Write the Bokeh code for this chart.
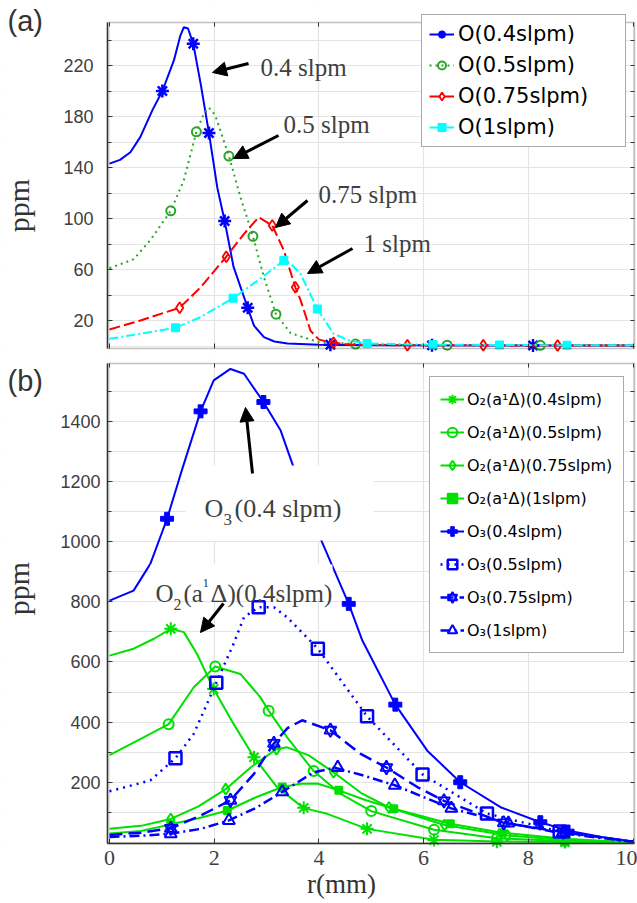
from bokeh.plotting import figure
from bokeh.models import (Range1d, Label, Arrow, NormalHead, Legend, LegendItem,
                          BoxAnnotation, FixedTicker, LinearAxis, Grid)
from bokeh.layouts import column
from bokeh.embed import file_html
from bokeh.resources import INLINE

# ---------------- data: panel (a)  O concentration (ppm) vs r (mm) ----------------
a_O04_x = [0.0, 0.2, 0.40, 0.59, 0.82, 1.01, 1.23, 1.35, 1.42, 1.50, 1.60, 1.74, 1.90, 2.06, 2.20, 2.37, 2.64, 2.76, 2.95, 3.15, 3.4, 4.0, 5.0, 6.0, 8.0, 10.0]
a_O04_y = [143, 146, 152, 164, 185, 200, 224, 243, 250, 249, 237, 206, 167, 124, 98, 62, 30, 16, 7, 3.5, 2, 1, 0.6, 0.5, 0.4, 0.3]
a_O04_mx = [1.01, 1.60, 1.90, 2.20, 2.64, 4.22, 6.16, 8.09]
a_O04_my = [200, 237, 167, 98, 30, 1, 0.5, 0.4]

a_O05_x = [0.0, 0.46, 0.78, 1.17, 1.42, 1.66, 1.80, 1.90, 2.02, 2.28, 2.50, 2.74, 2.95, 3.18, 3.46, 4.0, 5.0, 6.0, 8.0, 10.0]
a_O05_y = [61, 68, 83, 106, 130, 168, 182, 187, 181, 149, 117, 86, 54, 25, 10, 3, 1, 0.6, 0.5, 0.4]
a_O05_mx = [1.17, 1.66, 2.28, 2.74, 3.18, 4.70, 6.45, 8.23]
a_O05_my = [106, 168, 149, 86, 25, 1.5, 0.6, 0.5]

a_O075_x = [0.0, 0.59, 1.34, 1.74, 2.23, 2.57, 2.85, 3.11, 3.33, 3.55, 3.65, 3.84, 4.0, 4.28, 4.6, 5.5, 7.0, 8.5, 10.0]
a_O075_y = [13, 20, 30, 46, 70, 88, 101, 94.5, 75, 46, 36, 12, 5, 2.5, 1, 0.6, 0.5, 0.4, 0.3]
a_O075_mx = [1.34, 2.23, 3.11, 3.55, 4.28, 5.69, 7.14, 8.56]
a_O075_my = [30, 70, 94.5, 46, 2.5, 0.6, 0.5, 0.4]

a_O1_x = [0.0, 0.59, 1.26, 1.74, 2.36, 2.82, 3.33, 3.45, 3.65, 3.97, 4.28, 4.6, 4.92, 6.18, 7.45, 8.74, 10.0]
a_O1_y = [5.6, 9.6, 14.3, 22.6, 37.5, 51, 67, 65, 56.6, 29, 9.6, 4, 2, 1, 0.8, 0.6, 0.5]
a_O1_mx = [1.26, 2.36, 3.33, 3.97, 4.92, 6.18, 7.45, 8.74]
a_O1_my = [14.3, 37.5, 67, 29, 2, 1, 0.8, 0.6]

a_labels = ["O(0.4slpm)", "O(0.5slpm)", "O(0.75slpm)", "O(1slpm)"]
a_yticks = [20, 60, 100, 140, 180, 220]
a_yminor = [40, 80, 120, 160, 200, 240]
a_ygrid = list(range(0, 260, 20))

# ---------------- data: panel (b)  O2(a1Δ) and O3 (ppm) vs r (mm) ----------------
b_G04_x = [0.0, 0.46, 0.85, 1.17, 1.42, 1.67, 1.99, 2.37, 2.76, 3.20, 3.71, 4.16, 4.92, 6.2, 7.4, 8.7, 10.0]
b_G04_y = [621, 644, 677, 710, 699, 627, 510, 394, 283, 184, 114, 95, 45, 9, 3, 1, 0]
b_G04_mx = [1.17, 1.99, 2.76, 3.71, 4.92, 6.20, 7.40, 8.70]
b_G04_my = [710, 510, 283, 115, 45, 8, 2, 1]

b_G05_x = [0.0, 0.66, 1.13, 1.61, 2.02, 2.5, 2.88, 3.04, 3.39, 3.90, 4.41, 5.0, 6.2, 7.4, 8.7, 10.0]
b_G05_y = [290, 350, 393, 516, 585, 560, 483, 438, 350, 237, 162, 104, 42, 14, 5, 0]
b_G05_mx = [1.13, 2.02, 3.04, 3.90, 5.0, 6.2, 7.4, 8.7]
b_G05_my = [393, 585, 438, 237, 104, 42, 14, 5]

b_G075_x = [0.0, 0.6, 1.17, 1.7, 2.22, 2.7, 3.19, 3.39, 3.8, 4.28, 4.8, 5.34, 6.4, 7.6, 8.7, 10.0]
b_G075_y = [45, 55, 78, 120, 177, 250, 310, 316, 290, 233, 165, 116, 58, 23, 8, 0]
b_G075_mx = [1.17, 2.22, 3.19, 4.28, 5.34, 6.4, 7.6, 8.7]
b_G075_my = [78, 177, 310, 233, 116, 58, 23, 8]

b_G1_x = [0.0, 0.6, 1.17, 1.7, 2.25, 2.8, 3.30, 3.65, 3.97, 4.38, 4.9, 5.43, 6.51, 7.5, 8.7, 10.0]
b_G1_y = [30, 38, 60, 80, 106, 150, 184, 195, 196, 173, 140, 112, 62, 32, 12, 0]
b_G1_mx = [1.17, 2.25, 3.30, 4.38, 5.43, 6.51, 7.5, 8.7]
b_G1_my = [60, 106, 184, 173, 112, 62, 32, 12]

b_B04_x = [0.0, 0.46, 0.78, 1.10, 1.36, 1.74, 1.99, 2.31, 2.57, 2.94, 3.27, 3.51, 4.06, 4.57, 4.83, 5.46, 6.07, 6.70, 7.47, 8.23, 8.74, 9.4, 10.0]
b_B04_y = [804, 837, 926, 1076, 1225, 1433, 1536, 1574, 1558, 1464, 1369, 1250, 998, 793, 671, 458, 305, 200, 117, 67, 40, 18, 3]
b_B04_mx = [1.10, 1.74, 2.94, 4.57, 5.46, 6.70, 8.23, 8.75]
b_B04_my = [1076, 1433, 1464, 793, 458, 200, 67, 36]

b_B05_x = [0.0, 0.78, 1.26, 1.61, 2.04, 2.37, 2.57, 2.85, 3.14, 3.39, 3.98, 4.92, 5.98, 7.21, 8.6, 10.0]
b_B05_y = [170, 206, 280, 361, 531, 660, 749, 782, 782, 749, 644, 419, 226, 96, 36, 2]
b_B05_mx = [1.26, 2.04, 2.85, 3.98, 4.92, 5.98, 7.21, 8.6]
b_B05_my = [280, 531, 782, 644, 419, 226, 96, 36]

b_B075_x = [0.0, 0.6, 1.17, 1.74, 2.31, 2.76, 3.14, 3.4, 3.68, 4.22, 4.79, 5.29, 5.88, 6.39, 7.53, 8.67, 10.0]
b_B075_y = [25, 32, 47, 89, 140, 228, 329, 380, 406, 373, 295, 249, 184, 138, 65, 34, 2]
b_B075_mx = [1.17, 2.31, 3.14, 4.22, 5.29, 6.39, 7.53, 8.67]
b_B075_my = [47, 140, 329, 373, 249, 138, 65, 34]

b_B1_x = [0.0, 0.6, 1.17, 1.74, 2.28, 2.8, 3.30, 3.90, 4.3, 4.8, 5.45, 6.53, 7.62, 8.65, 10.0]
b_B1_y = [18, 22, 29, 45, 73, 115, 168, 233, 248, 225, 190, 113, 64, 30, 2]
b_B1_mx = [1.17, 2.28, 3.30, 4.36, 5.45, 6.53, 7.62, 8.65]
b_B1_my = [29, 73, 168, 249, 190, 113, 64, 30]

b_labels = ["O\u2082(a\u00b9\u0394)(0.4slpm)", "O\u2082(a\u00b9\u0394)(0.5slpm)",
            "O\u2082(a\u00b9\u0394)(0.75slpm)", "O\u2082(a\u00b9\u0394)(1slpm)",
            "O\u2083(0.4slpm)", "O\u2083(0.5slpm)", "O\u2083(0.75slpm)", "O\u2083(1slpm)"]
b_yticks = [200, 400, 600, 800, 1000, 1200, 1400]
b_yminor = [100, 300, 500, 700, 900, 1100, 1300, 1500]
b_ygrid = list(range(0, 1600, 100))
x_ticks = [0, 2, 4, 6, 8, 10]

# ---------------- layout helpers: page pixel -> data (for annotation placement) ----------------
def ax(px):
    return (px - 109.0) / 52.35
def ay_a(py):
    return (345.5 - py) / 1.275
def ay_b(py):
    return (841.9 - py) / 0.3008

BLUE = "#0000ff"
GREEN_A = "#2aa52a"
RED = "#ff0000"
CYAN = "#00ffff"
GREEN = "#00e000"
TXT = "#404040"
GRID = "#e4e4e4"
DARK = "#333333"

XL, XR = ax(107), ax(634)          # plot box, x


def tick_row(loc, bounds, ticks):
    """Axis that draws only short inward tick marks (no labels)."""
    return LinearAxis(fixed_location=loc, bounds=bounds,
                      ticker=FixedTicker(ticks=[], minor_ticks=ticks),
                      major_tick_in=0, major_tick_out=0, minor_tick_in=4, minor_tick_out=0,
                      axis_line_color=None, minor_tick_line_color=DARK)


def make_panel(height, ytop_px, ybot_px, canvas_top, canvas_bot, ay, yticks, yminor, ygrid,
               ylab_standoff, show_xlabels):
    yb, yt = ay(ybot_px), ay(ytop_px)
    p = figure(width=637, height=height, output_backend="svg", toolbar_location=None,
               x_range=Range1d(ax(0), ax(637)), y_range=Range1d(ay(canvas_bot), ay(canvas_top)),
               min_border=0, min_border_left=0, min_border_right=0,
               min_border_top=0, min_border_bottom=0, x_axis_type=None)
    p.outline_line_color = None
    # grid
    p.ygrid.ticker = FixedTicker(ticks=ygrid)
    p.ygrid.grid_line_color = GRID
    p.ygrid.grid_line_width = 1.2
    # bottom axis
    if show_xlabels:
        xa = LinearAxis(fixed_location=yb, bounds=(XL, XR), ticker=FixedTicker(ticks=x_ticks),
                        major_tick_in=5, major_tick_out=0, minor_tick_in=0, minor_tick_out=0,
                        axis_line_color=DARK, axis_line_width=1.5, major_tick_line_color=DARK,
                        major_label_text_font="Liberation Serif", major_label_text_font_size="22px",
                        major_label_text_color=TXT, major_label_standoff=7)
    else:
        xa = tick_row(yb, (XL, XR), x_ticks)
        xa.minor_tick_in = 5
    p.add_layout(xa, "below")
    xg = Grid(dimension=0, ticker=FixedTicker(ticks=x_ticks), grid_line_color=GRID,
              grid_line_width=1.2)
    p.add_layout(xg)
    # white masks so the grid stays inside the plot box
    for kw in (dict(right=XL), dict(left=XR), dict(bottom=yt), dict(top=yb)):
        p.add_layout(BoxAnnotation(fill_color="white", fill_alpha=1.0, line_alpha=0,
                                   level="underlay", **kw))
    # left axis
    ya = p.yaxis[0]
    ya.fixed_location = XL
    ya.bounds = (yb, yt)
    ya.ticker = FixedTicker(ticks=yticks, minor_ticks=yminor)
    ya.major_tick_in = 5
    ya.major_tick_out = 0
    ya.minor_tick_in = 4
    ya.minor_tick_out = 0
    ya.axis_line_color = DARK
    ya.axis_line_width = 1.5
    ya.major_tick_line_color = DARK
    ya.minor_tick_line_color = DARK
    ya.major_label_text_font = "Liberation Sans"
    ya.major_label_text_font_size = "18px"
    ya.major_label_text_color = TXT
    ya.major_label_standoff = ylab_standoff
    # right and top tick rows
    p.add_layout(tick_row(XR, (yb, yt), ygrid), "right")
    p.add_layout(tick_row(yt, (XL, XR), x_ticks), "above")
    # frame border
    p.add_layout(BoxAnnotation(left=XL, right=XR, bottom=yb, top=yt, fill_alpha=0,
                               line_color=DARK, line_width=1.5, level="guide"))
    return p


# ================= panel (a) =================
pa = make_panel(356, 22, 348, 0, 356, ay_a, a_yticks, a_yminor, a_ygrid, 14, False)

ra = []
l = pa.line(a_O04_x, a_O04_y, line_color=BLUE, line_width=2)
s = pa.scatter(a_O04_mx, a_O04_my, marker="asterisk", size=13, line_color=BLUE, line_width=2.5)
ra.append([l, s])
l = pa.line(a_O05_x, a_O05_y, line_color=GREEN_A, line_width=2, line_dash="2 4")
s = pa.scatter(a_O05_mx, a_O05_my, marker="circle", size=9, line_color=GREEN_A, line_width=2, fill_alpha=0)
ra.append([l, s])
l = pa.line(a_O075_x, a_O075_y, line_color=RED, line_width=2, line_dash="11 4")
s = pa.scatter(a_O075_mx, a_O075_my, marker="diamond", size=11, line_color=RED, line_width=1.8, fill_alpha=0)
ra.append([l, s])
l = pa.line(a_O1_x, a_O1_y, line_color=CYAN, line_width=2, line_dash="9 3 2 3")
s = pa.scatter(a_O1_mx, a_O1_my, marker="square", size=8, line_color=CYAN, fill_color=CYAN)
ra.append([l, s])

leg_a = Legend(items=[LegendItem(label=t, renderers=r) for t, r in zip(a_labels, ra)],
               location=(421, 209), orientation="vertical",
               label_text_font="DejaVu Sans", label_text_font_size="21px",
               label_text_color="black", label_height=20, glyph_height=20,
               glyph_width=25, spacing=7, padding=7, margin=0, label_standoff=4,
               label_width=160, border_line_color="#555555", border_line_width=1.5,
               background_fill_alpha=1.0)
pa.add_layout(leg_a)

a_notes = [("0.4 slpm", 260, 67, (248, 63), (212, 72)),
           ("0.5 slpm", 283, 124, (278, 135), (233, 158)),
           ("0.75 slpm", 318, 194, (307, 200), (275, 227)),
           ("1 slpm", 363, 243, (352, 248), (307, 273))]
for txt, tx, ty, st, en in a_notes:
    pa.add_layout(Label(x=ax(tx), y=ay_a(ty), text=txt, text_font="Liberation Serif",
                        text_font_size="25px", text_color=TXT, text_baseline="middle"))
    pa.add_layout(Arrow(end=NormalHead(size=14, fill_color="black", line_color="black"),
                        x_start=ax(st[0]), y_start=ay_a(st[1]), x_end=ax(en[0]), y_end=ay_a(en[1]),
                        line_width=3, line_color="black"))

pa.add_layout(Label(x=ax(7), y=ay_a(4), text="(a)", text_font="Liberation Sans",
                    text_font_size="29px", text_color=DARK, text_baseline="top"))
pa.add_layout(Label(x=ax(18), y=ay_a(205), text="ppm", text_font="Liberation Serif",
                    text_font_size="30px", text_color=DARK, angle=1.5708,
                    text_align="center", text_baseline="middle"))

# ================= panel (b) =================
pb = make_panel(547, 363, 843, 356, 903, ay_b, b_yticks, b_yminor, b_ygrid, 7, True)

rb = []
g_sets = [(b_G04_x, b_G04_y, b_G04_mx, b_G04_my, "asterisk", 13, 0),
          (b_G05_x, b_G05_y, b_G05_mx, b_G05_my, "circle", 10, 0),
          (b_G075_x, b_G075_y, b_G075_mx, b_G075_my, "diamond", 11, 0),
          (b_G1_x, b_G1_y, b_G1_mx, b_G1_my, "square", 7, 1)]
for xs, ys, mx, my, mk, sz, fa in g_sets:
    l = pb.line(xs, ys, line_color=GREEN, line_width=2)
    s = pb.scatter(mx, my, marker=mk, size=sz, line_color=GREEN, fill_color=GREEN,
                   fill_alpha=fa, line_width=2)
    rb.append([l, s])

l = pb.line(b_B04_x, b_B04_y, line_color=BLUE, line_width=2)
s = pb.scatter(b_B04_mx, b_B04_my, marker="plus", size=13, line_color=BLUE, fill_color=BLUE)
rb.append([l, s])
l = pb.line(b_B05_x, b_B05_y, line_color=BLUE, line_width=2.5, line_dash="2 5")
s = pb.scatter(b_B05_mx, b_B05_my, marker="square", size=12, line_color=BLUE, line_width=2.5, fill_alpha=0)
rb.append([l, s])
l = pb.line(b_B075_x, b_B075_y, line_color=BLUE, line_width=2.5, line_dash="13 6")
s1 = pb.scatter(b_B075_mx, b_B075_my, marker="triangle", size=12, line_color=BLUE, line_width=1.8, fill_alpha=0)
s2 = pb.scatter(b_B075_mx, b_B075_my, marker="inverted_triangle", size=12, line_color=BLUE, line_width=1.8, fill_alpha=0)
rb.append([l, s1, s2])
l = pb.line(b_B1_x, b_B1_y, line_color=BLUE, line_width=2.5, line_dash="10 4 2 4")
s = pb.scatter(b_B1_mx, b_B1_my, marker="triangle", size=12, line_color=BLUE, line_width=2, fill_alpha=0)
rb.append([l, s])

leg_b = Legend(items=[LegendItem(label=t, renderers=r) for t, r in zip(b_labels, rb)],
               location=(429, 250), orientation="vertical",
               label_text_font="DejaVu Sans", label_text_font_size="16px",
               label_text_color="black", label_height=24, glyph_height=24,
               glyph_width=24, spacing=9, padding=10, margin=0, label_standoff=3,
               label_width=146, border_line_color="#555555", border_line_width=1.5,
               background_fill_alpha=1.0)
pb.add_layout(leg_b)

# white boxes behind the in-plot annotations
pb.add_layout(BoxAnnotation(left=ax(185), right=ax(373), bottom=ay_b(540), top=ay_b(465),
                            fill_color="white", fill_alpha=1.0, line_alpha=0))
pb.add_layout(BoxAnnotation(left=ax(150), right=ax(332), bottom=ay_b(598), top=ay_b(564),
                            fill_color="white", fill_alpha=1.0, line_alpha=0))

b_texts = [("O", 204, 508, 26), ("3", 223, 519, 17), ("(0.4 slpm)", 234, 508, 26),
           ("O", 155, 593, 25), ("2", 173, 604, 16), ("(a", 183, 593, 25),
           ("1", 202, 582, 13), ("\u0394", 210, 593, 26), (")(0.4slpm)", 227, 593, 25)]
for txt, tx, ty, fs in b_texts:
    pb.add_layout(Label(x=ax(tx), y=ay_b(ty), text=txt, text_font="Liberation Serif",
                        text_font_size=f"{fs}px", text_color=TXT, text_baseline="alphabetic"))

b_arrows = [((252, 473), (245, 407)), ((223, 603), (200, 632))]
for st, en in b_arrows:
    pb.add_layout(Arrow(end=NormalHead(size=14, fill_color="black", line_color="black"),
                        x_start=ax(st[0]), y_start=ay_b(st[1]), x_end=ax(en[0]), y_end=ay_b(en[1]),
                        line_width=3, line_color="black"))

pb.add_layout(Label(x=ax(7), y=ay_b(364), text="(b)", text_font="Liberation Sans",
                    text_font_size="29px", text_color=DARK, text_baseline="top"))
pb.add_layout(Label(x=ax(18), y=ay_b(588), text="ppm", text_font="Liberation Serif",
                    text_font_size="30px", text_color=DARK, angle=1.5708,
                    text_align="center", text_baseline="middle"))
pb.add_layout(Label(x=ax(341), y=ay_b(883), text="r(mm)", text_font="Liberation Serif",
                    text_font_size="27px", text_color=DARK,
                    text_align="center", text_baseline="middle"))

layout = column(pa, pb, spacing=0)
open("out.html", "w").write(file_html(layout, INLINE))
